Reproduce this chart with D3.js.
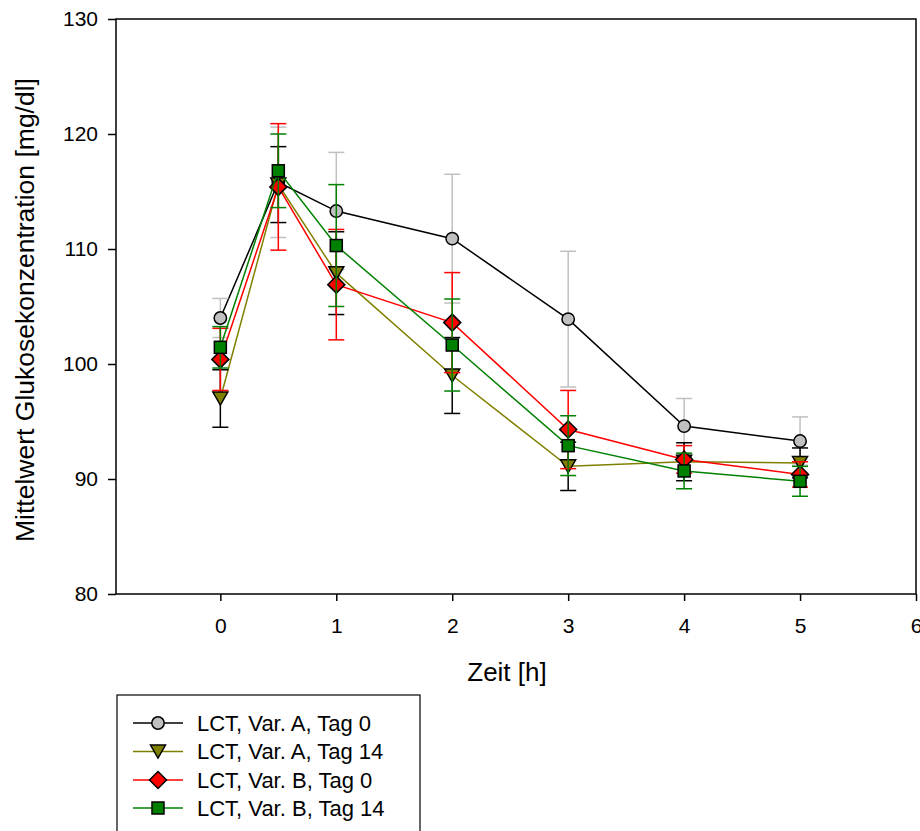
<!DOCTYPE html>
<html>
<head>
<meta charset="utf-8">
<script src="https://cdn.jsdelivr.net/npm/d3@7"></script>
<style>
  html, body { margin: 0; padding: 0; background: #fff; }
  svg { display: block; }
  text { font-family: "Liberation Sans", Arial, sans-serif; fill: #000; }
</style>
</head>
<body>
<svg id="chart" width="920" height="831"></svg>
<script>
// ---- data ----
const times = [0, 0.5, 1, 2, 3, 4, 5];
const xTicks = [0, 1, 2, 3, 4, 5, 6];
const yTicks = [80, 90, 100, 110, 120, 130];

const seriesNames = ["LCT, Var. A, Tag 0", "LCT, Var. A, Tag 14", "LCT, Var. B, Tag 0", "LCT, Var. B, Tag 14"];

const meanA0  = [104.0, 115.8, 113.3, 110.9, 103.9, 94.6, 93.3];
const sdA0    = [1.7, 4.8, 5.1, 5.6, 5.9, 2.4, 2.1];
const meanA14 = [97.0, 115.6, 107.9, 99.0, 91.1, 91.5, 91.4];
const sdA14   = [2.5, 3.3, 3.6, 3.3, 2.1, 1.65, 1.3];
const meanB0  = [100.4, 115.4, 106.9, 103.6, 94.3, 91.7, 90.4];
const sdB0    = [2.7, 5.5, 4.8, 4.35, 3.4, 1.2, 1.1];
const meanB14 = [101.45, 116.8, 110.3, 101.65, 92.9, 90.7, 89.8];
const sdB14   = [1.8, 3.2, 5.3, 4.0, 2.6, 1.55, 1.3];

// ---- styles ----
const styles = [
  { line: "#000000", fill: "#c0c0c0", bar: "#c0c0c0", symbol: "circle" },
  { line: "#808000", fill: "#808000", bar: "#000000", symbol: "triangle" },
  { line: "#ff0000", fill: "#ff0000", bar: "#ff0000", symbol: "diamond" },
  { line: "#008000", fill: "#008000", bar: "#008000", symbol: "square" }
];
const means = [meanA0, meanA14, meanB0, meanB14];
const sds = [sdA0, sdA14, sdB0, sdB14];

const svg = d3.select("#chart");
const L = 116, R = 916, T = 19, B = 594;
const x = d3.scaleLinear().domain([-0.9, 6]).range([L, R]);
const y = d3.scaleLinear().domain([80, 130]).range([B, T]);

// axes
const yAxis = svg.append("g").attr("transform", `translate(${L},0)`)
  .call(d3.axisLeft(y).tickValues(yTicks).tickFormat(d3.format("d")).tickSize(8).tickSizeOuter(0).tickPadding(10));
const xAxis = svg.append("g").attr("transform", `translate(0,${B})`)
  .call(d3.axisBottom(x).tickValues(xTicks).tickFormat(d3.format("d")).tickSize(7).tickSizeOuter(0).tickPadding(17));
[yAxis, xAxis].forEach(g => {
  g.select(".domain").remove();
  g.selectAll(".tick line").attr("stroke", "#000").attr("stroke-width", 1.5);
  g.selectAll(".tick text").attr("font-size", 21).attr("font-family", '"Liberation Sans", Arial, sans-serif').attr("fill", "#000");
});

// frame
svg.append("rect").attr("x", L).attr("y", T).attr("width", R - L).attr("height", B - T)
  .attr("fill", "none").attr("stroke", "#000").attr("stroke-width", 1.5);

// titles
svg.append("text").attr("x", 507).attr("y", 681).attr("text-anchor", "middle")
  .attr("font-size", 26).text("Zeit [h]");
svg.append("text").attr("transform", "translate(34,310) rotate(-90)").attr("text-anchor", "middle")
  .attr("font-size", 26.5).text("Mittelwert Glukosekonzentration [mg/dl]");

function drawSymbol(g, type, cx, cy, fill) {
  if (type === "circle") {
    g.append("circle").attr("cx", cx).attr("cy", cy).attr("r", 6.2)
      .attr("fill", fill).attr("stroke", "#000").attr("stroke-width", 1.5);
  } else if (type === "square") {
    g.append("rect").attr("x", cx - 6).attr("y", cy - 6).attr("width", 12).attr("height", 12)
      .attr("fill", fill).attr("stroke", "#000").attr("stroke-width", 1.5);
  } else if (type === "diamond") {
    const h = 8.5;
    g.append("path").attr("d", `M${cx},${cy - h}L${cx + h},${cy}L${cx},${cy + h}L${cx - h},${cy}Z`)
      .attr("fill", fill).attr("stroke", "#000").attr("stroke-width", 1.5);
  } else if (type === "triangle") {
    const w = 7.5, hh = 6.5;
    g.append("path").attr("d", `M${cx - w},${cy - hh}L${cx + w},${cy - hh}L${cx},${cy + hh}Z`)
      .attr("fill", fill).attr("stroke", "#000").attr("stroke-width", 1.5);
  }
}

const lineGen = d3.line().x(d => x(d[0])).y(d => y(d[1]));

means.forEach((m, si) => {
  const st = styles[si];
  const g = svg.append("g");
  const pts = times.map((t, i) => [t, m[i], sds[si][i]]);
  // line
  g.append("path").datum(pts).attr("d", lineGen)
    .attr("fill", "none").attr("stroke", st.line).attr("stroke-width", 1.5);
  // error bars
  pts.forEach(p => {
    const cx = x(p[0]), y1 = y(p[1] + p[2]), y2 = y(p[1] - p[2]);
    g.append("line").attr("x1", cx).attr("x2", cx).attr("y1", y1).attr("y2", y2)
      .attr("stroke", st.bar).attr("stroke-width", 1.5);
    [y1, y2].forEach(yy => g.append("line").attr("x1", cx - 8).attr("x2", cx + 8)
      .attr("y1", yy).attr("y2", yy).attr("stroke", st.bar).attr("stroke-width", 1.5));
  });
  // markers
  pts.forEach(p => drawSymbol(g, st.symbol, x(p[0]), y(p[1]), st.fill));
});

// legend
const lg = svg.append("g");
lg.append("rect").attr("x", 117).attr("y", 695).attr("width", 303).attr("height", 150)
  .attr("fill", "#fff").attr("stroke", "#000").attr("stroke-width", 1.2);
const rowY = [723, 751.5, 780, 808];
seriesNames.forEach((name, i) => {
  const st = styles[i];
  lg.append("line").attr("x1", 133).attr("x2", 183).attr("y1", rowY[i]).attr("y2", rowY[i])
    .attr("stroke", st.line).attr("stroke-width", 1.5);
  drawSymbol(lg, st.symbol, 158, rowY[i], st.fill);
  lg.append("text").attr("x", 197).attr("y", rowY[i]).attr("dy", "0.36em")
    .attr("font-size", 22).text(name);
});
</script>
</body>
</html>
